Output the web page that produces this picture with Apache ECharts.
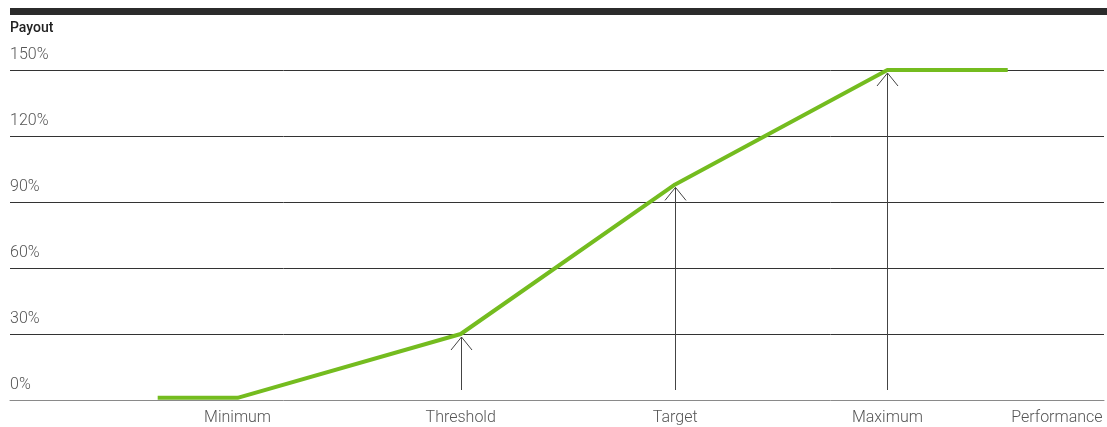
<!DOCTYPE html>
<html>
<head>
<meta charset="utf-8">
<script src="https://cdn.jsdelivr.net/npm/echarts@6/dist/echarts.min.js"></script>
<style>html,body{margin:0;padding:0;background:#fff}#c{width:1107px;height:427px}</style>
</head>
<body>
<div id="c"></div>
<script>
// Performance levels (x axis, arbitrary 0-100 performance scale)
const perfLevels = ['Minimum', 'Threshold', 'Target', 'Maximum', 'Performance'];
const perfX = [20.8, 41.2, 60.8, 80.2, 95.7];
// Payout curve
const payoutX = [13.5, 20.8, 41.2, 60.8, 80.2, 91.2];
const payoutY = [1, 1, 30, 98, 150, 150];
// Arrows pointing up at the curve
const arrowX = [41.2, 60.8, 80.2];
const arrowY = [30, 98, 150];
// Y ticks
const yTicks = [0, 30, 60, 90, 120, 150];

const chart = echarts.init(document.getElementById('c'), null, {renderer: 'canvas'});
const font = 'Roboto, "Liberation Sans", sans-serif';
chart.setOption({
  animation: false,
  backgroundColor: '#fff',
  graphic: [
    {type: 'rect', shape: {x: 10, y: 8, width: 1097, height: 7}, style: {fill: '#2b2b2b'}},
    {type: 'text', left: 10, top: 21, style: {text: 'Payout', font: '500 14px ' + font, fill: '#222'}}
  ],
  grid: {left: 10, right: 3, top: 70, bottom: 27, containLabel: false},
  xAxis: {
    type: 'value', min: 0, max: 100,
    axisLine: {show: true, lineStyle: {color: '#8a8a8a', width: 1}},
    axisTick: {show: false},
    splitLine: {show: false},
    axisLabel: {
      customValues: perfX,
      margin: 10,
      color: '#555', fontSize: 16, fontWeight: 300, fontFamily: font,
      formatter: v => perfLevels[perfX.indexOf(v)] || ''
    }
  },
  yAxis: {
    type: 'value', min: 0, max: 150, interval: 30,
    axisLine: {show: false}, axisTick: {show: false},
    splitLine: {show: true, showMinLine: false, lineStyle: {color: '#333', width: 1}},
    axisLabel: {
      inside: true, margin: 0, align: 'left', verticalAlign: 'bottom',
      padding: [0, 0, 7, 0],
      color: '#555', fontSize: 16, fontWeight: 300, fontFamily: font,
      formatter: v => v + '%'
    }
  },
  series: [
    {
      type: 'custom',
      data: arrowX.map((x, i) => [x, arrowY[i]]),
      clip: false,
      z: 3,
      renderItem: (params, api) => {
        const top = api.coord([api.value(0), api.value(1)]);
        const base = api.coord([api.value(0), 0]);
        const px = Math.round(top[0]) + 0.5;
        const tip = top[1] + 3;
        const bottom = base[1] - 10;
        const st = {stroke: '#444', lineWidth: 1, fill: null};
        return {
          type: 'group',
          children: [
            {type: 'line', shape: {x1: px, y1: bottom, x2: px, y2: tip}, style: st},
            {type: 'polyline', shape: {points: [[px - 10.5, tip + 13], [px, tip], [px + 10.5, tip + 13]]}, style: st}
          ]
        };
      }
    },
    {
      type: 'line',
      data: payoutX.map((x, i) => [x, payoutY[i]]),
      showSymbol: false,
      clip: false,
      z: 4,
      lineStyle: {color: '#74bc1f', width: 4},
      itemStyle: {color: '#74bc1f'}
    }
  ]
});
</script>
</body>
</html>
